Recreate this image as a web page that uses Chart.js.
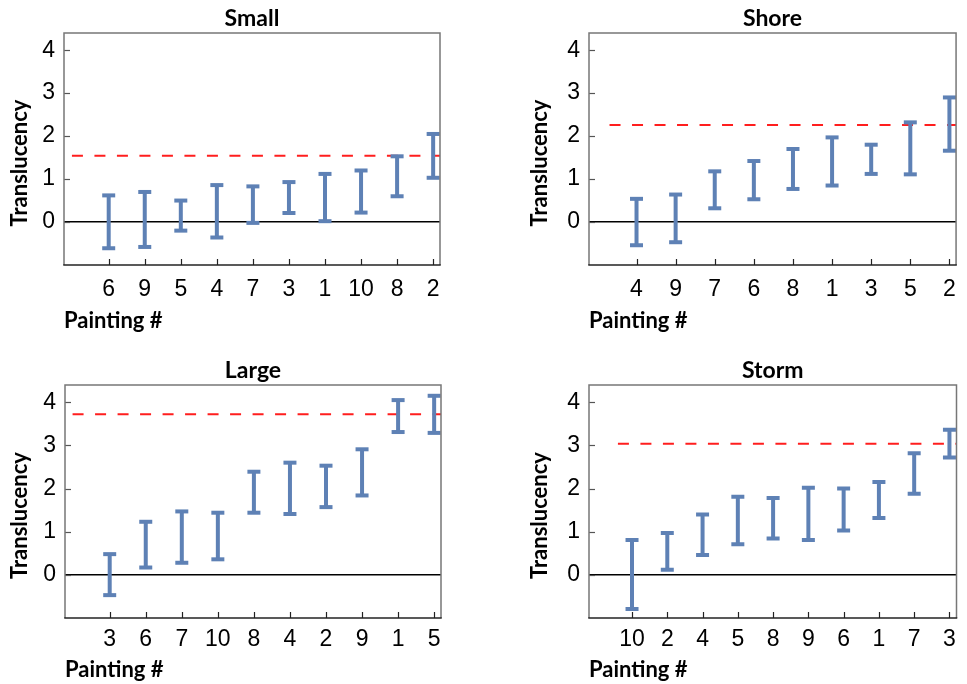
<!DOCTYPE html>
<html>
<head>
<meta charset="utf-8">
<script src="https://cdn.jsdelivr.net/npm/chart.js@4.4.0/dist/chart.umd.min.js"></script>
<style>
  html, body { margin: 0; padding: 0; background: #fff; }
  #wrap { position: relative; width: 967px; height: 684px; overflow: hidden; }
  canvas { position: absolute; }
</style>
</head>
<body>
<div id="wrap">
  <canvas id="c1" width="484" height="342" style="left:0px;top:0px"></canvas>
  <canvas id="c2" width="483" height="342" style="left:484px;top:0px"></canvas>
  <canvas id="c3" width="484" height="342" style="left:0px;top:342px"></canvas>
  <canvas id="c4" width="483" height="342" style="left:484px;top:342px"></canvas>
</div>
<script>
// ---------------- data ----------------
const yTicks = [0, 1, 2, 3, 4];

const smallLabels = ['6', '9', '5', '4', '7', '3', '1', '10', '8', '2'];
const smallLow    = [-0.61, -0.58, -0.20, -0.36, -0.02, 0.21, 0.02, 0.22, 0.60, 1.03];
const smallHigh   = [0.62, 0.70, 0.50, 0.86, 0.83, 0.93, 1.12, 1.20, 1.53, 2.05];
const smallRef    = 1.54;

const shoreLabels = ['4', '9', '7', '6', '8', '1', '3', '5', '2'];
const shoreLow    = [-0.54, -0.47, 0.32, 0.53, 0.77, 0.85, 1.12, 1.11, 1.66];
const shoreHigh   = [0.54, 0.64, 1.18, 1.42, 1.70, 1.97, 1.80, 2.32, 2.90];
const shoreRef    = 2.26;

const largeLabels = ['3', '6', '7', '10', '8', '4', '2', '9', '1', '5'];
const largeLow    = [-0.47, 0.17, 0.28, 0.36, 1.44, 1.41, 1.57, 1.84, 3.31, 3.29];
const largeHigh   = [0.48, 1.23, 1.47, 1.44, 2.39, 2.60, 2.53, 2.91, 4.05, 4.15];
const largeRef    = 3.72;

const stormLabels = ['10', '2', '4', '5', '8', '9', '6', '1', '7', '3'];
const stormLow    = [-0.79, 0.12, 0.46, 0.71, 0.84, 0.81, 1.03, 1.32, 1.88, 2.72];
const stormHigh   = [0.81, 0.97, 1.40, 1.81, 1.78, 2.02, 2.00, 2.15, 2.82, 3.36];
const stormRef    = 3.04;

// ---------------- styling ----------------
const BLUE = 'rgb(94,129,181)';
const RED = 'rgb(255,30,30)';
const TITLE_FONT = 'Lato';
const TICK_FONT = '"Liberation Sans", Arial, sans-serif';

const panelPlugin = {
  id: 'panelDeco',
  afterDraw(chart, args, o) {
    const { ctx, chartArea: a, scales: { x, y } } = chart;
    ctx.save();
    // inward tick marks
    ctx.strokeStyle = '#555';
    ctx.lineWidth = 1.2;
    y.ticks.forEach(t => {
      const py = Math.round(y.getPixelForValue(t.value)) + 0.5;
      ctx.beginPath(); ctx.moveTo(a.left, py); ctx.lineTo(a.left + 6, py); ctx.stroke();
    });
    ctx.strokeStyle = '#222';
    x.ticks.forEach(t => {
      const px = Math.round(x.getPixelForValue(t.value)) + 0.5;
      ctx.beginPath(); ctx.moveTo(px, a.bottom); ctx.lineTo(px, a.bottom - 6); ctx.stroke();
    });
    // frame
    ctx.lineWidth = 1.5;
    ctx.strokeStyle = '#777';
    ctx.beginPath();
    ctx.moveTo(a.left, a.bottom); ctx.lineTo(a.left, a.top); ctx.lineTo(a.right, a.top); ctx.lineTo(a.right, a.bottom);
    ctx.stroke();
    ctx.strokeStyle = '#222';
    ctx.beginPath(); ctx.moveTo(a.left - 0.75, a.bottom); ctx.lineTo(a.right + 0.75, a.bottom); ctx.stroke();
    // panel title
    ctx.fillStyle = '#000';
    ctx.font = 'bold 23px ' + TITLE_FONT;
    ctx.textAlign = 'center';
    ctx.textBaseline = 'alphabetic';
    ctx.fillText(o.title, (a.left + a.right) / 2, a.top - 7);
    // y axis title
    ctx.font = 'bold 22px ' + TITLE_FONT;
    ctx.translate(o.yTitleX, (a.top + a.bottom) / 2 + 14);
    ctx.rotate(-Math.PI / 2);
    ctx.textBaseline = 'middle';
    ctx.fillText('Translucency', 0, 0);
    ctx.restore();
  }
};

function barPoints(lo, hi) {
  const pts = [];
  lo.forEach((v, i) => { pts.push({ x: i, y: v }, { x: i, y: hi[i] }, { x: i, y: null }); });
  return pts;
}

function makePanel(id, cfg) {
  const idx = cfg.labels.map((_, i) => i);
  new Chart(document.getElementById(id), {
    type: 'scatter',
    data: {
      datasets: [
        {
          data: barPoints(cfg.low, cfg.high),
          showLine: true,
          spanGaps: false,
          borderColor: BLUE,
          borderWidth: 4,
          pointStyle: 'line',
          pointRadius: 6.5,
          pointBorderWidth: 4,
          pointBorderColor: BLUE,
          pointBackgroundColor: BLUE,
          order: 0
        },
        {
          data: [{ x: cfg.refStart, y: cfg.ref }, { x: cfg.xMax, y: cfg.ref }],
          showLine: true,
          borderColor: RED,
          borderWidth: 2,
          borderDash: [11, 11.5],
          pointRadius: 0,
          order: 1
        }
      ]
    },
    options: {
      responsive: false,
      animation: false,
      devicePixelRatio: 1,
      layout: { padding: { left: 0, right: cfg.padRight, top: cfg.padTop, bottom: 0 } },
      plugins: {
        legend: { display: false },
        tooltip: { enabled: false },
        panelDeco: { title: cfg.title, yTitleX: cfg.yTitleX }
      },
      scales: {
        x: {
          type: 'linear',
          min: cfg.xMin,
          max: cfg.xMax,
          afterBuildTicks: s => { s.ticks = idx.map(v => ({ value: v })); },
          afterFit: s => { s.height = cfg.xAxisH; },
          grid: { display: false, drawTicks: false },
          border: { display: false },
          ticks: {
            autoSkip: false, maxRotation: 0, padding: cfg.xTickPad,
            color: '#000',
            font: { family: TICK_FONT, size: 23 },
            callback: v => cfg.labels[v]
          },
          title: {
            display: true, text: 'Painting #', align: 'start', color: '#000',
            font: { family: TITLE_FONT, size: 22, weight: 'bold' },
            padding: { top: 0, bottom: cfg.xTitlePad }
          }
        },
        y: {
          min: -1,
          max: 4.4,
          afterBuildTicks: s => { s.ticks = yTicks.map(v => ({ value: v })); },
          afterFit: s => { s.width = cfg.yAxisW; },
          grid: {
            drawTicks: false,
            lineWidth: 1.5,
            color: c => (c.tick && c.tick.value === 0 ? '#000' : 'rgba(0,0,0,0)')
          },
          border: { display: false },
          ticks: {
            padding: 9, color: '#000',
            font: { family: TICK_FONT, size: 23 }
          }
        }
      }
    },
    plugins: [panelPlugin]
  });
}

makePanel('c1', { title: 'Small', labels: smallLabels, low: smallLow, high: smallHigh, ref: smallRef,
  xMin: -1.24, xMax: 9.19, refStart: -1.02, yAxisW: 64, padRight: 44, padTop: 33, xAxisH: 77,
  xTickPad: 11, xTitlePad: 8, yTitleX: 20 });
makePanel('c2', { title: 'Shore', labels: shoreLabels, low: shoreLow, high: shoreHigh, ref: shoreRef,
  xMin: -1.215, xMax: 8.17, refStart: -0.69, yAxisW: 105, padRight: 2, padTop: 33, xAxisH: 77,
  xTickPad: 11, xTitlePad: 8, yTitleX: 56 });
makePanel('c3', { title: 'Large', labels: largeLabels, low: largeLow, high: largeHigh, ref: largeRef,
  xMin: -1.24, xMax: 9.19, refStart: -1.03, yAxisW: 65, padRight: 43, padTop: 43, xAxisH: 66,
  xTickPad: 8, xTitlePad: 1, yTitleX: 20 });
makePanel('c4', { title: 'Storm', labels: stormLabels, low: stormLow, high: stormHigh, ref: stormRef,
  xMin: -1.22, xMax: 9.2, refStart: -0.40, yAxisW: 105, padRight: 2, padTop: 43, xAxisH: 66,
  xTickPad: 8, xTitlePad: 1, yTitleX: 56 });
</script>
</body>
</html>
